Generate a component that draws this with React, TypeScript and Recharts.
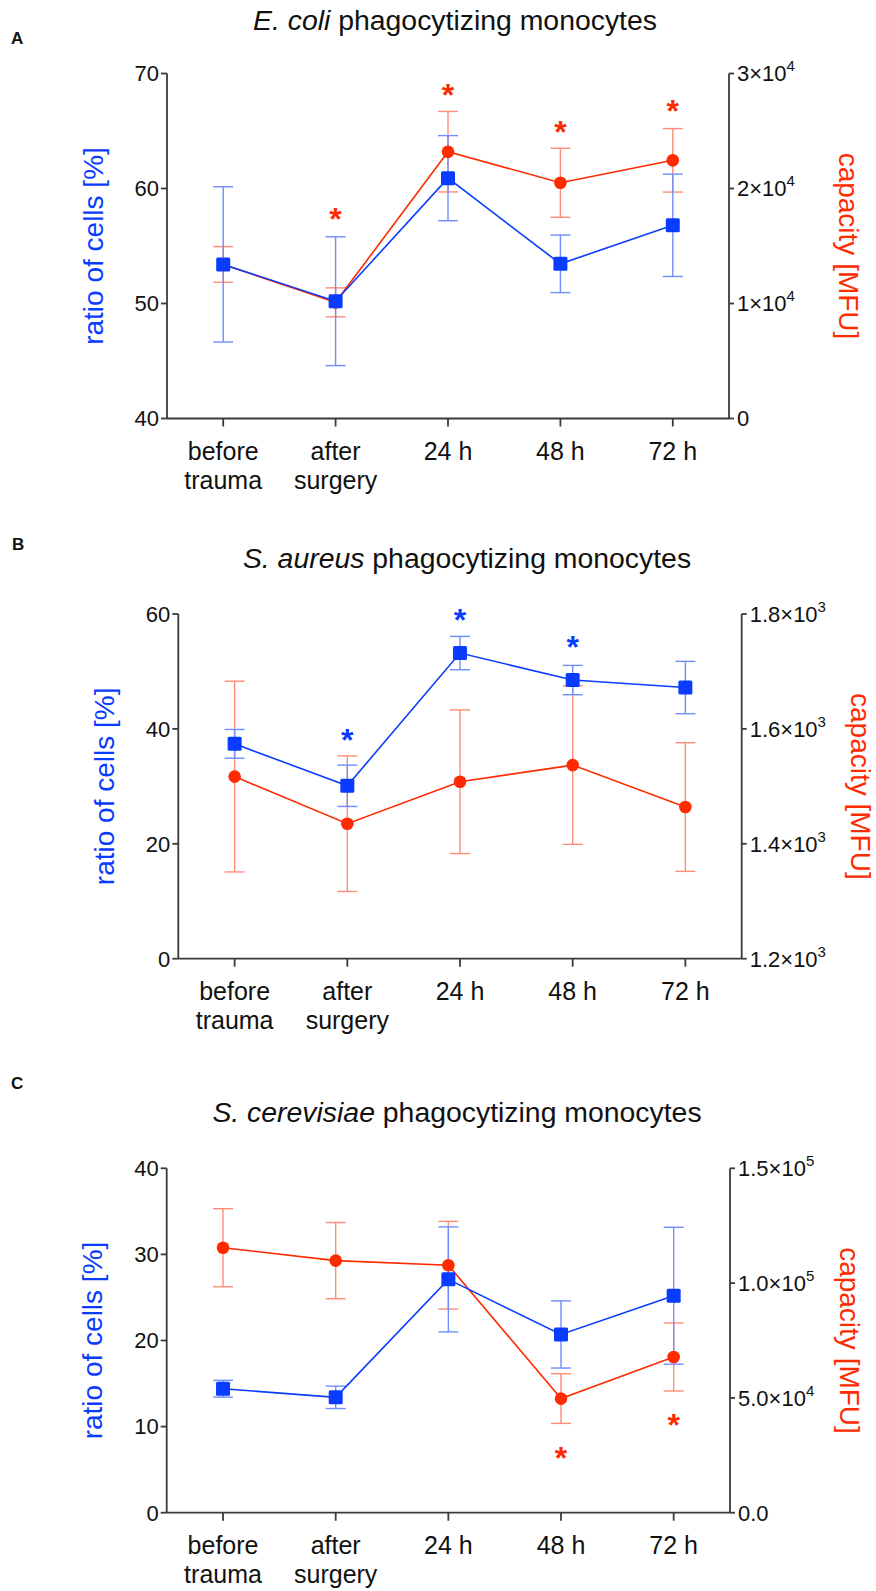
import { ComposedChart, Line, Scatter, XAxis, YAxis, ErrorBar } from "recharts";

const BLUE = "#0a3cff";
const RED = "#ff2a00";
const BLUE_ERR = "#6f8dff";
const RED_ERR = "#ff8c78";
const INK = "#111";
const AXIS = "#3a3a3a";
const FONT = "'Liberation Sans', Arial, Helvetica, sans-serif";

const CATEGORIES = ["before\ntrauma", "after\nsurgery", "24 h", "48 h", "72 h"];

// A: E. coli
const A_RATIO = [53.4, 50.2, 60.9, 53.45, 56.8];
const A_RATIO_SD = [6.75, 5.6, 3.7, 2.5, 4.45];
const A_CAP = [13400, 10100, 23200, 20500, 22450];
const A_CAP_SD = [1550, 1260, 3500, 3000, 2760];
const A_RATIO_STAR = [null, null, null, null, null];
const A_CAP_STAR = [null, 16400, 27200, 24000, 25800];
const A_LEFT_TICKS = [40, 50, 60, 70];
const A_RIGHT_TICKS = [0, 10000, 20000, 30000];

// B: S. aureus
const B_RATIO = [37.4, 30.1, 53.2, 48.5, 47.2];
const B_RATIO_SD = [2.5, 3.6, 2.9, 2.55, 4.55];
const B_CAP = [1517, 1435, 1508, 1537, 1464];
const B_CAP_SD = [166, 118, 125, 138, 112];
const B_RATIO_STAR = [null, 36.2, 57.1, 52.3, null];
const B_CAP_STAR = [null, null, null, null, null];
const B_LEFT_TICKS = [0, 20, 40, 60];
const B_RIGHT_TICKS = [1200, 1400, 1600, 1800];

// C: S. cerevisiae
const C_RATIO = [14.4, 13.4, 27.1, 20.7, 25.2];
const C_RATIO_SD = [0.97, 1.3, 6.1, 3.9, 7.95];
const C_CAP = [115400, 109800, 107800, 49700, 67800];
const C_CAP_SD = [17000, 16600, 19100, 10800, 14800];
const C_RATIO_STAR = [null, null, null, null, null];
const C_CAP_STAR = [null, null, null, 19000, 33300];
const C_LEFT_TICKS = [0, 10, 20, 30, 40];
const C_RIGHT_TICKS = [0, 50000, 100000, 150000];

function rows(ratio, ratioSd, cap, capSd, ratioStar, capStar) {
  return CATEGORIES.map((cat, i) => ({
    cat,
    ratio: ratio[i],
    ratioSd: ratioSd[i],
    cap: cap[i],
    capSd: capSd[i],
    ratioStar: ratioStar[i],
    capStar: capStar[i],
  }));
}

function CatTick({ x, y, payload }: any) {
  const lines = String(payload.value).split("\n");
  return (
    <text x={x} y={y} textAnchor="middle" fontSize={25} fill={INK}>
      {lines.map((l, i) => (
        <tspan key={i} x={x} dy={i === 0 ? 31 : 29}>
          {l}
        </tspan>
      ))}
    </text>
  );
}

function sciTick(decimals: number, zero: string) {
  return ({ x, y, payload }: any) => {
    const v = payload.value;
    if (v === 0) {
      return (
        <text x={x} y={y} dy="0.355em" fontSize={22} fill={INK}>
          {zero}
        </text>
      );
    }
    const e = Math.floor(Math.log10(v) + 1e-9);
    const m = v / 10 ** e;
    return (
      <text x={x} y={y} dy="0.355em" fontSize={22} fill={INK}>
        <tspan>{m.toFixed(decimals)}×10</tspan>
        <tspan dy={-10} fontSize={15}>{e}</tspan>
      </text>
    );
  };
}

function axisLabel(text: string, color: string, side: "left" | "right", dist: number) {
  return ({ viewBox }: any) => {
    const { x, y, width, height } = viewBox;
    const cx = side === "left" ? x + width - dist : x + dist;
    const cy = y + height / 2;
    return (
      <text
        x={cx}
        y={cy}
        transform={`rotate(${side === "left" ? -90 : 90} ${cx} ${cy})`}
        textAnchor="middle"
        dominantBaseline="central"
        fontSize={28}
        fill={color}
      >
        {text}
      </text>
    );
  };
}

const square = (p: any) =>
  p.cx == null || p.cy == null ? (
    <g key={p.index} />
  ) : (
    <rect key={p.index} x={p.cx - 7} y={p.cy - 7} width={14} height={14} rx={1.5} fill={BLUE} />
  );

const star = (color: string, key: string) => (p: any) =>
  p.payload == null || p.payload[key] == null ? (
    <g />
  ) : (
    <text x={p.cx} y={p.cy} textAnchor="middle" fontSize={32} fontWeight="bold" fill={color}>
      *
    </text>
  );

function Panel({ top, height, margin, data, leftDomain, leftTicks, rightDomain, rightTicks, rightTick }: any) {
  const axisLine = { stroke: AXIS, strokeWidth: 1.8 };
  return (
    <div style={{ position: "absolute", left: 0, top, width: 876, height }}>
      <ComposedChart width={876} height={height} data={data} margin={margin}>
        <XAxis
          dataKey="cat"
          scale="band"
          height={70}
          tick={<CatTick />}
          tickSize={8}
          tickMargin={2}
          axisLine={axisLine}
          tickLine={axisLine}
          interval={0}
        />
        <YAxis
          yAxisId="left"
          width={100}
          domain={leftDomain}
          ticks={leftTicks}
          tickSize={6}
          tickMargin={2}
          axisLine={axisLine}
          tickLine={axisLine}
          tick={{ fontSize: 22, fill: INK }}
          label={{ content: axisLabel("ratio of cells [%]", BLUE, "left", 74) }}
        />
        <YAxis
          yAxisId="right"
          orientation="right"
          width={134}
          domain={rightDomain}
          ticks={rightTicks}
          tickSize={5}
          tickMargin={3}
          axisLine={axisLine}
          tickLine={axisLine}
          tick={rightTick}
          label={{ content: axisLabel("capacity [MFU]", RED, "right", 119) }}
        />
        <Line
          yAxisId="right"
          dataKey="cap"
          stroke={RED}
          strokeWidth={1.6}
          dot={{ r: 6.3, fill: RED, stroke: RED, strokeWidth: 0 }}
          isAnimationActive={false}
        >
          <ErrorBar dataKey="capSd" width={10} stroke={RED_ERR} strokeWidth={1.4} direction="y" />
        </Line>
        <Line
          yAxisId="left"
          dataKey="ratio"
          stroke={BLUE}
          strokeWidth={1.6}
          dot={square}
          isAnimationActive={false}
        >
          <ErrorBar dataKey="ratioSd" width={10} stroke={BLUE_ERR} strokeWidth={1.4} direction="y" />
        </Line>
        <Scatter yAxisId="left" dataKey="ratioStar" shape={star(BLUE, "ratioStar")} isAnimationActive={false} />
        <Scatter yAxisId="right" dataKey="capStar" shape={star(RED, "capStar")} isAnimationActive={false} />
      </ComposedChart>
    </div>
  );
}

export default function App() {
  return (
    <div style={{ position: "absolute", left: 0, top: 0, width: 876, height: 1591, background: "#fff", fontFamily: FONT, overflow: "hidden" }}>
      <Panel
        top={0}
        height={530}
        margin={{ top: 73.5, bottom: 41.5, left: 67, right: 13 }}
        data={rows(A_RATIO, A_RATIO_SD, A_CAP, A_CAP_SD, A_RATIO_STAR, A_CAP_STAR)}
        leftDomain={[40, 70]}
        leftTicks={A_LEFT_TICKS}
        rightDomain={[0, 30000]}
        rightTicks={A_RIGHT_TICKS}
        rightTick={sciTick(0, "0")}
      />
      <Panel
        top={530}
        height={530}
        margin={{ top: 84, bottom: 31.3, left: 78.3, right: 0.3 }}
        data={rows(B_RATIO, B_RATIO_SD, B_CAP, B_CAP_SD, B_RATIO_STAR, B_CAP_STAR)}
        leftDomain={[0, 60]}
        leftTicks={B_LEFT_TICKS}
        rightDomain={[1200, 1800]}
        rightTicks={B_RIGHT_TICKS}
        rightTick={sciTick(1, "0")}
      />
      <Panel
        top={1060}
        height={531}
        margin={{ top: 108.3, bottom: 8.3, left: 66.7, right: 12 }}
        data={rows(C_RATIO, C_RATIO_SD, C_CAP, C_CAP_SD, C_RATIO_STAR, C_CAP_STAR)}
        leftDomain={[0, 40]}
        leftTicks={C_LEFT_TICKS}
        rightDomain={[0, 150000]}
        rightTicks={C_RIGHT_TICKS}
        rightTick={sciTick(1, "0.0")}
      />
      <svg width={876} height={1591} style={{ position: "absolute", left: 0, top: 0, pointerEvents: "none" }}>
        <g fontFamily={FONT} fill={INK}>
          <text x={11} y={44} fontSize={17} fontWeight="bold">A</text>
          <text x={455} y={30} fontSize={28.4} textAnchor="middle">
            <tspan fontStyle="italic">E. coli</tspan> phagocytizing monocytes
          </text>
          <text x={12} y={550} fontSize={17} fontWeight="bold">B</text>
          <text x={467} y={568} fontSize={28.4} textAnchor="middle">
            <tspan fontStyle="italic">S. aureus</tspan> phagocytizing monocytes
          </text>
          <text x={11} y={1089} fontSize={17} fontWeight="bold">C</text>
          <text x={457} y={1122} fontSize={28.4} textAnchor="middle">
            <tspan fontStyle="italic">S. cerevisiae</tspan> phagocytizing monocytes
          </text>
        </g>
      </svg>
    </div>
  );
}
